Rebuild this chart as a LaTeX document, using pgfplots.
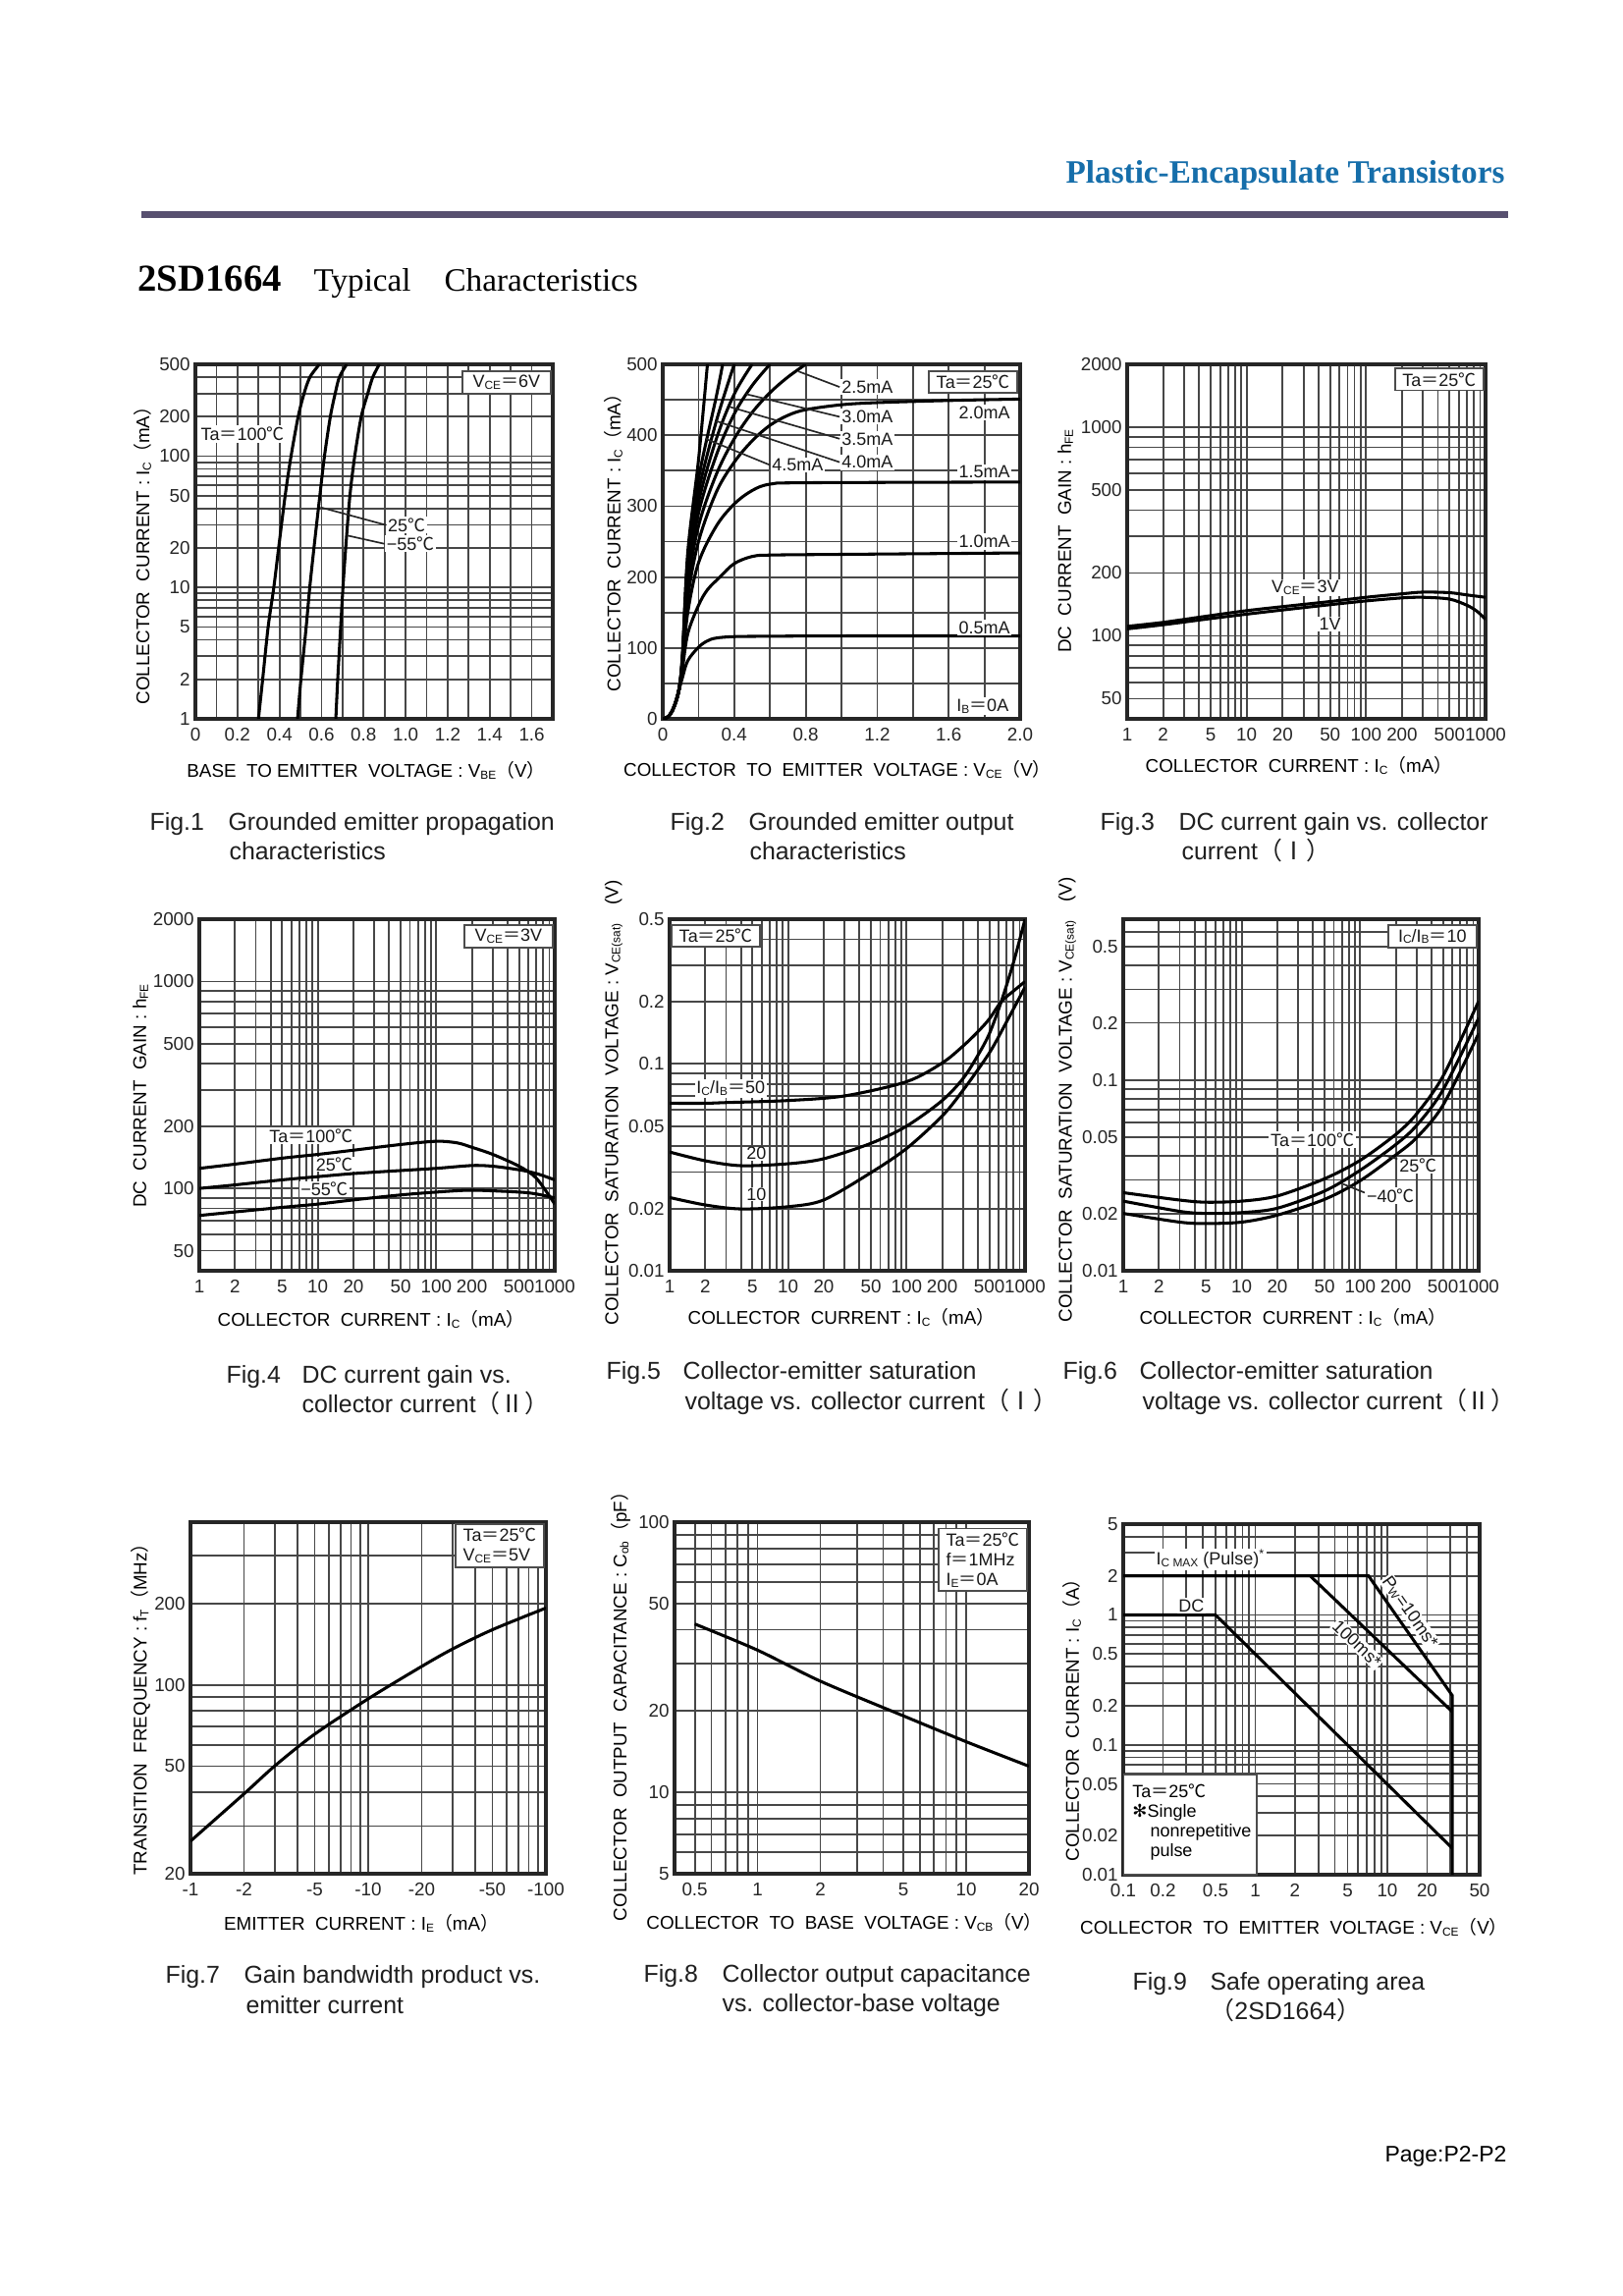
\documentclass[border=0pt]{standalone}
\usepackage{fontspec}
\setmainfont{Liberation Sans}
\newfontfamily\serif{Liberation Serif}
\newfontfamily\cjk{Noto Sans CJK SC}
\newfontfamily\dejavu{DejaVu Sans}
\usepackage{pgfplots}
\pgfplotsset{compat=1.18}
\def\pxu{0.36bp}
\newcommand\tf{\fontsize{6.8}{7.5}\selectfont}
\newcommand\af{\fontsize{6.8}{7.7}\selectfont}
\newcommand\nf{\fontsize{6.5}{7.2}\selectfont}
\newcommand\cf{\fontsize{9}{10}\selectfont}
\newcommand\sub[1]{\raisebox{-0.2ex}{\fontsize{4.3}{5}\selectfont #1}}
\newcommand\degc{{\cjk ℃}}
\newcommand\eq{{\cjk ＝}}
\newcommand\lp{{\cjk （}}
\newcommand\rp{{\cjk ）}}
\definecolor{hdrblue}{RGB}{22,110,170}
\definecolor{rulec}{RGB}{88,80,112}
\pgfplotsset{
  ds/.style={
    scale only axis, clip=true, anchor=north west,
    axis line style={line width=1.2bp, black!85},
    grid=both,
    major grid style={line width=0.65bp, black!72},
    minor grid style={line width=0.65bp, black!72},
    major tick length=0pt, minor tick length=0pt,
    tick label style={font=\tf, text=black!85},
    yticklabel style={xshift=1.6bp},
    every axis plot/.append style={line width=1.1bp, black, no marks},
  },
}
\tikzset{
  lbl/.style={font=\nf, fill=white, inner sep=0.6bp, text=black!90},
  bx/.style={font=\nf, fill=white, draw=black!70, line width=0.6bp, inner xsep=2.5bp, inner ysep=1.5bp, minimum width=32.4bp, text=black!90},
  ld/.style={line width=0.6bp, black!85},
}
\begin{document}
\begin{tikzpicture}
\useasboundingbox (0,0) rectangle (595.08bp,-841.68bp);
\fill[white] (0,0) rectangle (595.08bp,-841.68bp);
% header
\node[anchor=base east, inner sep=0, font=\serif\bfseries\fontsize{12}{14}\selectfont, text=hdrblue] at (1533*\pxu,-187*\pxu) {Plastic-Encapsulate Transistors};
\fill[rulec] (144*\pxu,-215*\pxu) rectangle (1536*\pxu,-222*\pxu);
\node[anchor=base west, inner sep=0, font=\serif\bfseries\fontsize{14}{16}\selectfont] at (140*\pxu,-297*\pxu) {2SD1664};
\node[anchor=base west, inner sep=0, font=\serif\fontsize{12}{14}\selectfont] at (319*\pxu,-297*\pxu) {Typical};
\node[anchor=base west, inner sep=0, font=\serif\fontsize{12}{14}\selectfont] at (452*\pxu,-297*\pxu) {Characteristics};
\node[anchor=base east, inner sep=0, font=\fontsize{8.3}{9}\selectfont] at (1535*\pxu,-2202*\pxu) {Page:P2-P2};

% ---------------- Fig 1
\begin{axis}[ds, at={(71.64bp,-133.56bp)}, width=131.04bp, height=129.96bp,
  xmin=0, xmax=1.7, ymode=log, ymin=1, ymax=500,
  xtick={0,0.2,0.4,0.6,0.8,1.0,1.2,1.4,1.6}, xticklabels={0,0.2,0.4,0.6,0.8,1.0,1.2,1.4,1.6},
  minor xtick={0.1,0.3,0.5,0.7,0.9,1.1,1.3,1.5,1.7},
  ytick={1,2,5,10,20,50,100,200,500}, yticklabels={1,2,5,10,20,50,100,200,500},
  minor ytick={3,4,6,7,8,9,30,40,60,70,80,90,300,400}]
\addplot[smooth] coordinates {(0.30,1)(0.32,2)(0.346,5)(0.373,10)(0.396,20)(0.427,50)(0.455,100)(0.489,200)(0.517,300)(0.545,400)(0.59,500)};
\addplot[smooth] coordinates {(0.486,1)(0.502,2)(0.527,5)(0.544,10)(0.564,20)(0.592,50)(0.614,100)(0.642,200)(0.665,300)(0.685,400)(0.72,500)};
\addplot[smooth] coordinates {(0.668,1)(0.677,2)(0.691,5)(0.702,10)(0.715,20)(0.735,50)(0.758,100)(0.789,200)(0.82,300)(0.844,400)(0.875,500)};
\node[bx, anchor=north east, xshift=-0.5bp, yshift=-2.2bp] at (rel axis cs:1,1) {V\sub{CE}\eq 6V};
\node[lbl] at (axis cs:0.225,147) {Ta\eq 100\degc};
\draw[ld] (axis cs:0.595,40.8) -- (axis cs:0.906,29.9);
\node[lbl, anchor=west] at (axis cs:0.906,29.9) {25\degc};
\draw[ld] (axis cs:0.722,24.9) -- (axis cs:0.9,21.5);
\node[lbl, anchor=west] at (axis cs:0.9,21.5) {−55\degc};
\end{axis}

% ---------------- Fig 2
\begin{axis}[ds, at={(243.0bp,-133.56bp)}, width=131.04bp, height=129.96bp,
  xmin=0, xmax=2, ymin=0, ymax=500,
  xtick={0,0.4,0.8,1.2,1.6,2.0}, xticklabels={0,0.4,0.8,1.2,1.6,2.0}, minor xtick={0.2,0.6,1.0,1.4,1.8},
  ytick={0,100,200,300,400,500}, yticklabels={0,100,200,300,400,500}, minor ytick={50,150,250,350,450}]
\addplot[smooth, tension=0.55] coordinates {(0,0)(0.03,3)(0.06,15)(0.09,40)(0.11,58)(0.14,82)(0.2,101)(0.25,110)(0.3,114)(0.4,116)(0.6,116.5)(1.0,117)(2.0,117)};
\addplot[smooth, tension=0.55] coordinates {(0,0)(0.03,3)(0.06,15)(0.09,40)(0.11,70)(0.14,120)(0.2,160)(0.25,182)(0.32,200)(0.4,219)(0.5,229)(0.6,231)(1.0,232)(2.0,234)};
\addplot[smooth, tension=0.55] coordinates {(0,0)(0.03,3)(0.06,15)(0.09,40)(0.11,75)(0.14,150)(0.2,220)(0.3,272)(0.4,303)(0.5,322)(0.6,331)(0.8,333)(2.0,334)};
\addplot[smooth, tension=0.55] coordinates {(0,0)(0.03,3)(0.06,15)(0.09,40)(0.11,78)(0.14,170)(0.2,250)(0.3,320)(0.4,362)(0.5,392)(0.6,414)(0.7,428)(0.8,436)(1.0,443)(1.2,446)(1.6,449)(2.0,451)};
\addplot[smooth, tension=0.55] coordinates {(0,0)(0.03,3)(0.06,15)(0.09,40)(0.11,80)(0.14,185)(0.2,272)(0.3,345)(0.4,395)(0.5,432)(0.6,460)(0.7,482)(0.8,500)};
\addplot[smooth, tension=0.55] coordinates {(0,0)(0.03,3)(0.06,15)(0.09,40)(0.11,82)(0.14,195)(0.2,290)(0.3,372)(0.4,430)(0.5,470)(0.6,500)};
\addplot[smooth, tension=0.55] coordinates {(0,0)(0.03,3)(0.06,15)(0.09,40)(0.11,84)(0.14,205)(0.2,305)(0.3,395)(0.4,458)(0.5,500)};
\addplot[smooth, tension=0.55] coordinates {(0,0)(0.03,3)(0.06,15)(0.09,40)(0.11,86)(0.14,215)(0.2,320)(0.3,420)(0.4,500)};
\addplot[smooth, tension=0.55] coordinates {(0,0)(0.03,3)(0.06,15)(0.09,40)(0.11,88)(0.14,225)(0.2,338)(0.3,455)(0.335,500)};
\addplot[smooth, tension=0.55] coordinates {(0,0)(0.03,3)(0.06,15)(0.09,40)(0.11,90)(0.14,235)(0.2,365)(0.25,500)};
\node[bx, anchor=north east, xshift=-0.7bp, yshift=-2.2bp] at (rel axis cs:1,1) {Ta\eq 25\degc};
\draw[ld] (axis cs:0.76,490) -- (axis cs:0.99,468); \node[lbl, anchor=west] at (axis cs:0.99,468) {2.5mA};
\draw[ld] (axis cs:0.467,458) -- (axis cs:0.99,426); \node[lbl, anchor=west] at (axis cs:0.99,426) {3.0mA};
\draw[ld] (axis cs:0.375,440) -- (axis cs:0.99,395); \node[lbl, anchor=west] at (axis cs:0.99,395) {3.5mA};
\draw[ld] (axis cs:0.30,420) -- (axis cs:0.99,362); \node[lbl, anchor=west] at (axis cs:0.99,362) {4.0mA};
\draw[ld] (axis cs:0.24,395) -- (axis cs:0.6,358); \node[lbl, anchor=west] at (axis cs:0.6,358) {4.5mA};
\node[lbl] at (axis cs:1.80,432) {2.0mA};
\node[lbl] at (axis cs:1.80,348) {1.5mA};
\node[lbl] at (axis cs:1.80,250) {1.0mA};
\node[lbl] at (axis cs:1.80,129) {0.5mA};
\node[lbl] at (axis cs:1.79,18) {I\sub{B}\eq 0A};
\end{axis}

% ---------------- Fig 3
\begin{axis}[ds, at={(413.28bp,-133.56bp)}, width=131.4bp, height=129.96bp,
  xmode=log, ymode=log, xmin=1, xmax=1000, ymin=40, ymax=2000,
  xtick={1,2,5,10,20,50,100,200,500,1000}, xticklabels={1,2,5,10,20,50,100,200,500,1000},
  minor xtick={3,4,6,7,8,9,30,40,60,70,80,90,300,400,600,700,800,900},
  ytick={50,100,200,500,1000,2000}, yticklabels={50,100,200,500,1000,2000},
  minor ytick={40,60,70,80,90,300,400,600,700,800,900}]
\addplot[smooth] coordinates {(1,111)(2,116)(5,125)(10,132)(20,138)(50,146)(100,153)(200,159)(300,162)(500,161)(700,157)(1000,153)};
\addplot[smooth] coordinates {(1,108)(2,113)(5,121)(10,127)(20,133)(50,141)(100,147)(200,152)(300,153)(500,150)(700,140)(850,131)(1000,120)};
\node[bx, anchor=north east, xshift=-0.5bp, yshift=-1.2bp] at (rel axis cs:1,1) {Ta\eq 25\degc};
\node[lbl] at (axis cs:31,170) {V\sub{CE}\eq 3V};
\node[lbl] at (axis cs:50,114) {1V};
\end{axis}

% ---------------- Fig 4
\begin{axis}[ds, at={(73.08bp,-336.96bp)}, width=130.32bp, height=128.88bp,
  xmode=log, ymode=log, xmin=1, xmax=1000, ymin=40, ymax=2000,
  xtick={1,2,5,10,20,50,100,200,500,1000}, xticklabels={1,2,5,10,20,50,100,200,500,1000},
  minor xtick={3,4,6,7,8,9,30,40,60,70,80,90,300,400,600,700,800,900},
  ytick={50,100,200,500,1000,2000}, yticklabels={50,100,200,500,1000,2000},
  minor ytick={40,60,70,80,90,300,400,600,700,800,900}]
\addplot[smooth] coordinates {(1,125)(2,131)(5,140)(10,146)(20,153)(50,163)(100,169)(150,166)(200,158)(300,146)(500,128)(700,112)(1000,84)};
\addplot[smooth] coordinates {(1,100)(2,104)(5,110)(10,114)(20,118)(50,122)(100,125)(200,129)(300,128)(500,123)(700,118)(1000,110)};
\addplot[smooth] coordinates {(1,74)(2,77)(5,81)(10,84)(20,88)(50,93)(100,96)(200,98)(500,96)(700,94)(1000,90)};
\node[bx, anchor=north east, xshift=-0.5bp, yshift=-1.8bp] at (rel axis cs:1,1) {V\sub{CE}\eq 3V};
\node[lbl] at (axis cs:8.8,180) {Ta\eq 100\degc};
\node[lbl, inner sep=0.3bp] at (axis cs:13.9,131) {25\degc};
\node[lbl, inner sep=0.3bp] at (axis cs:11.4,99) {−55\degc};
\end{axis}

% ---------------- Fig 5
\begin{axis}[ds, at={(245.52bp,-336.96bp)}, width=130.32bp, height=128.88bp,
  xmode=log, ymode=log, xmin=1, xmax=1000, ymin=0.01, ymax=0.5,
  xtick={1,2,5,10,20,50,100,200,500,1000}, xticklabels={1,2,5,10,20,50,100,200,500,1000},
  minor xtick={3,4,6,7,8,9,30,40,60,70,80,90,300,400,600,700,800,900},
  ytick={0.01,0.02,0.05,0.1,0.2,0.5}, yticklabels={0.01,0.02,0.05,0.1,0.2,0.5},
  minor ytick={0.03,0.04,0.06,0.07,0.08,0.09,0.3,0.4}]
\addplot[smooth] coordinates {(1,0.0645)(2,0.0645)(3,0.065)(10,0.0665)(30,0.07)(100,0.082)(200,0.101)(300,0.122)(400,0.143)(500,0.165)(630,0.2)(800,0.225)(1000,0.25)};
\addplot[smooth] coordinates {(1,0.0375)(2,0.034)(4,0.0322)(10,0.0329)(20,0.0348)(50,0.0413)(100,0.05)(200,0.0665)(300,0.085)(400,0.11)(500,0.14)(630,0.2)(800,0.31)(1000,0.5)};
\addplot[smooth] coordinates {(1,0.0226)(2,0.0208)(4,0.0199)(10,0.0204)(20,0.022)(50,0.0298)(100,0.039)(200,0.056)(300,0.0746)(500,0.113)(700,0.16)(1000,0.235)};
\node[bx, anchor=north west, xshift=0.5bp, yshift=-1.8bp] at (rel axis cs:0,1) {Ta\eq 25\degc};
\node[lbl] at (axis cs:3.28,0.076) {I\sub{C}/I\sub{B}\eq 50};
\node[lbl, inner sep=0.2bp] at (axis cs:5.4,0.0368) {20};
\node[lbl, inner sep=0.3bp] at (axis cs:5.4,0.0235) {10};
\end{axis}

% ---------------- Fig 6
\begin{axis}[ds, at={(411.84bp,-336.96bp)}, width=130.32bp, height=128.88bp,
  xmode=log, ymode=log, xmin=1, xmax=1000, ymin=0.01, ymax=0.7,
  xtick={1,2,5,10,20,50,100,200,500,1000}, xticklabels={1,2,5,10,20,50,100,200,500,1000},
  minor xtick={3,4,6,7,8,9,30,40,60,70,80,90,300,400,600,700,800,900},
  ytick={0.01,0.02,0.05,0.1,0.2,0.5}, yticklabels={0.01,0.02,0.05,0.1,0.2,0.5},
  minor ytick={0.03,0.04,0.06,0.07,0.08,0.09,0.3,0.4,0.6,0.7}]
\addplot[smooth] coordinates {(1,0.0257)(3,0.0235)(5,0.0229)(10,0.0232)(20,0.0247)(50,0.0304)(100,0.038)(200,0.052)(300,0.0667)(500,0.105)(1000,0.26)};
\addplot[smooth] coordinates {(1,0.0232)(3,0.0205)(5,0.02)(10,0.0202)(20,0.0213)(50,0.0262)(100,0.0337)(200,0.046)(300,0.058)(500,0.089)(1000,0.212)};
\addplot[smooth] coordinates {(1,0.02)(3,0.018)(5,0.0177)(10,0.018)(20,0.0196)(50,0.0237)(100,0.0297)(200,0.0406)(300,0.05)(500,0.074)(1000,0.176)};
\node[bx, anchor=north east, xshift=-0.5bp, yshift=-1.8bp] at (rel axis cs:1,1) {I\sub{C}/I\sub{B}\eq 10};
\node[lbl] at (axis cs:39.5,0.0489) {Ta\eq 100\degc};
\draw[ld] (axis cs:155,0.0406) -- (axis cs:206,0.0386);
\node[lbl, anchor=west] at (axis cs:206,0.0358) {25\degc};
\draw[ld] (axis cs:72,0.0285) -- (axis cs:109,0.0257);
\node[lbl, anchor=west] at (axis cs:109,0.0247) {−40\degc};
\end{axis}

% ---------------- Fig 7
\begin{axis}[ds, at={(69.84bp,-558.0bp)}, width=130.32bp, height=128.88bp,
  xmode=log, ymode=log, xmin=1, xmax=100, ymin=20, ymax=400,
  xtick={1,2,5,10,20,50,100}, xticklabels={-1,-2,-5,-10,-20,-50,-100},
  minor xtick={3,4,6,7,8,9,30,40,60,70,80,90},
  ytick={20,50,100,200}, yticklabels={20,50,100,200},
  minor ytick={30,40,60,70,80,90,300,400}]
\addplot[smooth] coordinates {(1,26.4)(2,39.5)(3,50.3)(5,65.7)(10,88.8)(20,117)(30,136)(50,160)(100,192.5)};
\node[bx, anchor=north east, align=left, xshift=-0.4bp, yshift=-0.4bp] at (rel axis cs:1,1) {Ta\eq 25\degc\\V\sub{CE}\eq 5V};
\end{axis}

% ---------------- Fig 8
\begin{axis}[ds, at={(247.32bp,-558.0bp)}, width=129.96bp, height=128.88bp,
  xmode=log, ymode=log, xmin=0.4, xmax=20, ymin=5, ymax=100,
  xtick={0.5,1,2,5,10,20}, xticklabels={0.5,1,2,5,10,20},
  minor xtick={0.4,0.6,0.7,0.8,0.9,3,4,6,7,8,9},
  ytick={5,10,20,50,100}, yticklabels={5,10,20,50,100},
  minor ytick={6,7,8,9,30,40,60,70,80,90}]
\addplot[smooth] coordinates {(0.5,42)(1,33.6)(2,25.8)(5,19.2)(10,15.4)(20,12.5)};
\node[bx, anchor=north east, align=left, xshift=-0.4bp, yshift=-2bp] at (rel axis cs:1,1) {Ta\eq 25\degc\\f\eq 1MHz\\I\sub{E}\eq 0A};
\end{axis}

% ---------------- Fig 9
\begin{axis}[ds, at={(411.84bp,-558.72bp)}, width=130.68bp, height=128.52bp,
  xmode=log, ymode=log, xmin=0.1, xmax=50, ymin=0.01, ymax=5,
  xtick={0.1,0.2,0.5,1,2,5,10,20,50}, xticklabels={0.1,0.2,0.5,1,2,5,10,20,50},
  minor xtick={0.3,0.4,0.6,0.7,0.8,0.9,3,4,6,7,8,9,30,40},
  ytick={0.01,0.02,0.05,0.1,0.2,0.5,1,2,5}, yticklabels={0.01,0.02,0.05,0.1,0.2,0.5,1,2,5},
  minor ytick={0.03,0.04,0.06,0.07,0.08,0.09,0.3,0.4,0.6,0.7,0.8,0.9,3,4}]
\addplot[sharp plot] coordinates {(0.1,1)(0.5,1)(31,0.016)};
\addplot[sharp plot] coordinates {(0.1,2)(2.6,2)(31,0.18)};
\addplot[sharp plot] coordinates {(0.1,2)(7.2,2)(31,0.24)(31,0.01)};
\draw[black!70, line width=0.6bp, fill=white] (axis cs:0.1,0.01) rectangle (axis cs:1.03,0.0593);
\node[anchor=north west, font=\nf, align=left, inner sep=0, xshift=3.2bp, yshift=-3.5bp] at (axis cs:0.1,0.0593) {Ta\eq 25\degc\\{\dejavu ✻}Single\\\hspace*{6.5bp}nonrepetitive\\\hspace*{6.5bp}pulse};
\node[lbl] at (axis cs:0.46,2.68) {I\sub{C MAX} (Pulse)\textsuperscript{*}};
\node[lbl] at (axis cs:0.328,1.17) {DC};
\node[lbl, rotate=-55, inner sep=0.4bp] at (axis cs:14.8,1.05) {P\sub{W}=10ms*};
\node[lbl, rotate=-44, inner sep=0.4bp] at (axis cs:5.9,0.6) {100ms*};
\end{axis}

% axis labels
\node[rotate=90, font=\af, inner sep=0] at (145*\pxu,-561*\pxu) {COLLECTOR\ \ CURRENT : I\sub{C}\lp mA\rp};
\node[font=\af, inner sep=0] at (373*\pxu,-784*\pxu) {BASE\ \ TO EMITTER\ \ VOLTAGE : V\sub{BE}\lp V\rp};
\node[rotate=90, font=\af, inner sep=0] at (625*\pxu,-548*\pxu) {COLLECTOR\ \ CURRENT : I\sub{C}\lp mA\rp};
\node[font=\af, inner sep=0] at (853*\pxu,-784*\pxu) {COLLECTOR\ \ TO\ \ EMITTER\ \ VOLTAGE : V\sub{CE}\lp V\rp};
\node[rotate=90, font=\af, inner sep=0] at (1085*\pxu,-551*\pxu) {DC\ \ CURRENT\ \ GAIN : h\sub{FE}};
\node[font=\af, inner sep=0] at (1323*\pxu,-780*\pxu) {COLLECTOR\ \ CURRENT : I\sub{C}\lp mA\rp};
\node[rotate=90, font=\af, inner sep=0] at (143*\pxu,-1116*\pxu) {DC\ \ CURRENT\ \ GAIN : h\sub{FE}};
\node[font=\af, inner sep=0] at (378*\pxu,-1344*\pxu) {COLLECTOR\ \ CURRENT : I\sub{C}\lp mA\rp};
\node[rotate=90, font=\af, inner sep=0] at (625*\pxu,-1123*\pxu) {COLLECTOR\ \ SATURATION\ \ VOLTAGE : V\sub{CE(sat)}\hspace{1em}(V)};
\node[font=\af, inner sep=0] at (857*\pxu,-1342*\pxu) {COLLECTOR\ \ CURRENT : I\sub{C}\lp mA\rp};
\node[rotate=90, font=\af, inner sep=0] at (1087*\pxu,-1120*\pxu) {COLLECTOR\ \ SATURATION\ \ VOLTAGE : V\sub{CE(sat)}\hspace{1em}(V)};
\node[font=\af, inner sep=0] at (1317*\pxu,-1342*\pxu) {COLLECTOR\ \ CURRENT : I\sub{C}\lp mA\rp};
\node[rotate=90, font=\af, inner sep=0] at (143*\pxu,-1736*\pxu) {TRANSITION\ \ FREQUENCY : f\sub{T}\lp MHz\rp};
\node[font=\af, inner sep=0] at (368*\pxu,-1958*\pxu) {EMITTER\ \ CURRENT : I\sub{E}\lp mA\rp};
\node[rotate=90, font=\af, inner sep=0] at (632*\pxu,-1733*\pxu) {COLLECTOR\ \ OUTPUT\ \ CAPACITANCE : C\sub{ob}\lp pF\rp};
\node[font=\af, inner sep=0] at (860*\pxu,-1958*\pxu) {COLLECTOR\ \ TO\ \ BASE\ \ VOLTAGE : V\sub{CB}\lp V\rp};
\node[rotate=90, font=\af, inner sep=0] at (1092*\pxu,-1747*\pxu) {COLLECTOR\ \ CURRENT : I\sub{C}\lp A\rp};
\node[font=\af, inner sep=0] at (1318*\pxu,-1963*\pxu) {COLLECTOR\ \ TO\ \ EMITTER\ \ VOLTAGE : V\sub{CE}\lp V\rp};

% captions
\begin{scope}[every node/.style={anchor=base west, inner sep=0, font=\cf, text=black!88}]
\node at (152*\pxu,-846*\pxu) {Fig.1};
\node at (232*\pxu,-846*\pxu) {Grounded emitter propagation};
\node at (233*\pxu,-876*\pxu) {characteristics};
\node at (682*\pxu,-846*\pxu) {Fig.2};
\node at (762*\pxu,-846*\pxu) {Grounded emitter output};
\node at (763*\pxu,-876*\pxu) {characteristics};
\node at (1120*\pxu,-846*\pxu) {Fig.3};
\node at (1200*\pxu,-846*\pxu) {DC current gain vs. collector};
\node at (1203*\pxu,-876*\pxu) {current{\cjk （Ⅰ）}};
\node at (230*\pxu,-1409*\pxu) {Fig.4};
\node at (307*\pxu,-1409*\pxu) {DC current gain vs.};
\node at (307*\pxu,-1439*\pxu) {collector current{\cjk （Ⅱ）}};
\node at (617*\pxu,-1405*\pxu) {Fig.5};
\node at (695*\pxu,-1405*\pxu) {Collector-emitter saturation};
\node at (697*\pxu,-1436*\pxu) {voltage vs. collector current{\cjk （Ⅰ）}};
\node at (1082*\pxu,-1405*\pxu) {Fig.6};
\node at (1160*\pxu,-1405*\pxu) {Collector-emitter saturation};
\node at (1163*\pxu,-1436*\pxu) {voltage vs. collector current{\cjk （Ⅱ）}};
\node at (168*\pxu,-2020*\pxu) {Fig.7};
\node at (248*\pxu,-2020*\pxu) {Gain bandwidth product vs.};
\node at (250*\pxu,-2051*\pxu) {emitter current};
\node at (655*\pxu,-2019*\pxu) {Fig.8};
\node at (735*\pxu,-2019*\pxu) {Collector output capacitance};
\node at (735*\pxu,-2049*\pxu) {vs. collector-base voltage};
\node at (1153*\pxu,-2027*\pxu) {Fig.9};
\node at (1232*\pxu,-2027*\pxu) {Safe operating area};
\node at (1232*\pxu,-2057*\pxu) {{\cjk （}2SD1664{\cjk ）}};
\end{scope}
\end{tikzpicture}
\end{document}
